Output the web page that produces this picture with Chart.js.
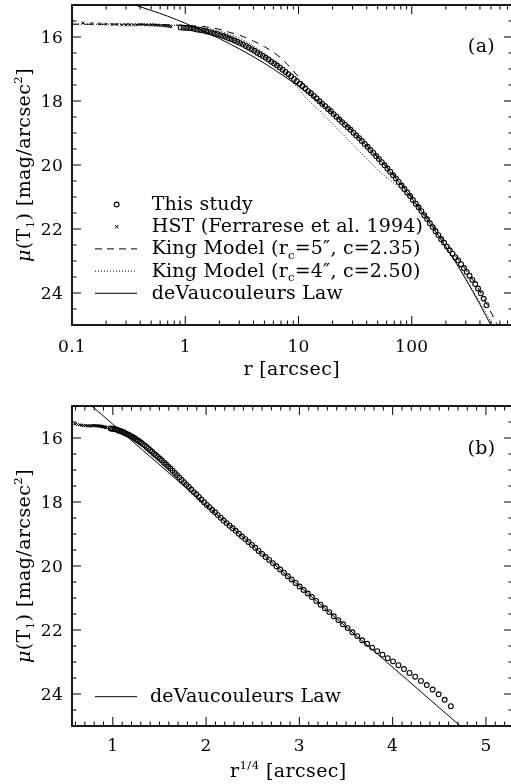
<!DOCTYPE html>
<html><head><meta charset="utf-8">
<script src="https://cdn.jsdelivr.net/npm/chart.js@4.4.1/dist/chart.umd.min.js"></script>
<style>
html,body{margin:0;padding:0;background:#fff;overflow:hidden;width:511px;height:784px;position:relative;}
canvas{display:block;position:absolute;left:0;}
</style></head><body>
<canvas id="ca" width="520" height="392" style="top:0;width:520px;height:392px"></canvas>
<canvas id="cb" width="520" height="392" style="top:392px;width:520px;height:392px"></canvas>
<script>
// ---------- data ----------
// "This study" surface photometry: radius (arcsec) and mu(T1)
const rStudy = [
 0.912, 0.966, 1.023, 1.084, 1.148, 1.216, 1.288, 1.365, 1.445, 1.531,
 1.622, 1.718, 1.820, 1.928, 2.042, 2.163, 2.291, 2.427, 2.570, 2.723,
 2.884, 3.055, 3.236, 3.428, 3.631, 3.846, 4.074, 4.315, 4.571, 4.842,
 5.129, 5.433, 5.754, 6.095, 6.457, 6.839, 7.244, 7.674, 8.128, 8.610,
 9.120, 9.661, 10.23, 10.84, 11.48, 12.16, 12.88, 13.65, 14.45, 15.31,
 16.22, 17.18, 18.20, 19.28, 20.42, 21.63, 22.91, 24.27, 25.70, 27.23,
 28.84, 30.55, 32.36, 34.28, 36.31, 38.46, 40.74, 43.15, 45.71, 48.42,
 51.29, 54.33, 57.54, 60.95, 64.57, 68.39, 72.44, 76.74, 81.28, 86.10,
 91.20, 96.61, 102.3, 108.4, 114.8, 121.6, 128.8, 136.5, 144.5, 153.1,
 162.2, 171.8, 182.0, 192.8, 204.2, 216.3, 229.1, 242.7, 257.0, 272.3,
 288.4, 305.5, 323.6, 342.8, 363.1, 384.6, 407.4, 431.5, 457.1];
const muStudy = [
 15.70, 15.71, 15.71, 15.72, 15.73, 15.75, 15.77, 15.78, 15.80, 15.82,
 15.84, 15.87, 15.89, 15.91, 15.94, 15.97, 16.00, 16.04, 16.07, 16.11,
 16.15, 16.19, 16.23, 16.28, 16.33, 16.38, 16.43, 16.49, 16.54, 16.59,
 16.65, 16.70, 16.77, 16.83, 16.89, 16.95, 17.02, 17.09, 17.16, 17.23,
 17.31, 17.38, 17.46, 17.53, 17.61, 17.69, 17.76, 17.84, 17.92, 18.01,
 18.09, 18.16, 18.25, 18.32, 18.41, 18.49, 18.58, 18.66, 18.74, 18.82,
 18.90, 18.99, 19.08, 19.16, 19.25, 19.34, 19.43, 19.53, 19.62, 19.72,
 19.81, 19.91, 20.01, 20.11, 20.21, 20.32, 20.42, 20.53, 20.64, 20.75,
 20.86, 20.97, 21.09, 21.21, 21.32, 21.44, 21.57, 21.69, 21.82, 21.94,
 22.07, 22.19, 22.32, 22.43, 22.55, 22.66, 22.77, 22.88, 22.98, 23.10,
 23.22, 23.34, 23.46, 23.59, 23.72, 23.86, 24.01, 24.18, 24.38];

// HST (Ferrarese et al. 1994)
const rHST = [0.1, 0.125, 0.15, 0.175, 0.2, 0.225, 0.25, 0.275, 0.3, 0.325, 0.35, 0.375, 0.4, 0.425,
 0.45, 0.475, 0.5, 0.525, 0.55, 0.575, 0.6, 0.625, 0.65, 0.675, 0.7, 0.725, 0.75];
const muHST = [15.53, 15.56, 15.58, 15.59, 15.60, 15.61, 15.61, 15.62, 15.62, 15.62, 15.62, 15.62, 15.61, 15.61,
 15.62, 15.62, 15.62, 15.62, 15.63, 15.63, 15.64, 15.64, 15.65, 15.65, 15.66, 15.67, 15.68];

// King model (rc=5", c=2.35) - dashed
const rKing5 = [0.1, 0.3, 0.6, 1, 1.5, 2, 2.5, 3, 4, 5, 6, 7, 8, 9, 10, 11, 12, 15, 20, 30, 50, 70, 100,
 150, 200, 250, 300, 400, 500, 560, 600];
const muKing5 = [15.60, 15.60, 15.61, 15.64, 15.68, 15.76, 15.86, 15.94, 16.13, 16.30, 16.48, 16.66, 16.86,
 17.06, 17.25, 17.45, 17.65, 17.98, 18.36, 18.93, 19.74, 20.32, 21.00, 21.82, 22.45, 22.90, 23.28, 23.95,
 24.60, 24.95, 25.20];

// King model (rc=4", c=2.50) - dotted
const rKing4 = [0.1, 0.3, 0.6, 1, 1.5, 2, 3, 4, 5, 6, 7, 8.5, 10, 12, 15, 18, 24, 30, 38, 50, 70, 85, 100,
 150, 200, 300, 400, 500, 540];
const muKing4 = [15.60, 15.60, 15.62, 15.65, 15.72, 15.81, 16.03, 16.28, 16.52, 16.76, 16.99, 17.35, 17.62,
 17.95, 18.27, 18.55, 19.00, 19.35, 19.72, 20.15, 20.58, 20.85, 21.10, 21.90, 22.55, 23.55, 24.30, 24.90, 25.10];

// de Vaucouleurs law - solid
const rDeV = [0.36, 0.5, 0.7, 1, 1.5, 2, 3, 5, 7, 10, 15, 20, 30, 50, 70, 100, 150, 200, 300, 400, 500];
const muDeV = [15.00, 15.17, 15.35, 15.57, 15.84, 16.05, 16.37, 16.82, 17.16, 17.54, 18.02, 18.39, 18.96,
 19.77, 20.36, 21.04, 21.90, 22.56, 23.57, 24.36, 25.01];

// axis ticks / labels
const xTicksA = [0.1, 1, 10, 100];
const xTickLabelsA = ['0.1', '1', '10', '100'];
const xTicksB = [1, 2, 3, 4, 5];
const xTickLabelsB = ['1', '2', '3', '4', '5'];
const yTicks = [16, 18, 20, 22, 24];
const yTickLabels = ['16', '18', '20', '22', '24'];

// ---------- drawing helpers ----------
const FONT = '"DejaVu Serif", serif';
function setFont(ctx, size, style) { ctx.font = (style ? style + ' ' : '') + size + 'px ' + FONT; }
function richWidth(ctx, segs, F) {
  let w = 0;
  for (const s of segs) { setFont(ctx, F * (s.s || 1), s.st); w += ctx.measureText(s.t).width; }
  return w;
}
function drawRich(ctx, segs, x, y, F, align) {
  const w = richWidth(ctx, segs, F);
  let cx = align === 'center' ? x - w / 2 : (align === 'right' ? x - w : x);
  ctx.textAlign = 'left'; ctx.textBaseline = 'alphabetic';
  for (const s of segs) {
    setFont(ctx, F * (s.s || 1), s.st);
    ctx.fillText(s.t, cx, y + F * (s.dy || 0));
    cx += ctx.measureText(s.t).width;
  }
}
const yTitleSegs = [{t:'\u03bc', st:'italic'}, {t:'(T'}, {t:'1', s:0.62, dy:0.22}, {t:') [mag/arcsec'}, {t:'2', s:0.62, dy:-0.42}, {t:']'}];

const decorPlugin = {
  id: 'decor',
  afterDraw(chart, args, o) {
    const ctx = chart.ctx, a = chart.chartArea, xs = chart.scales.x, ys = chart.scales.y;
    ctx.save();
    ctx.strokeStyle = '#000'; ctx.fillStyle = '#000';
    // ticks
    ctx.lineWidth = 1;
    ctx.beginPath();
    const xt = (v, len) => { const p = xs.getPixelForValue(v); if (p <= a.left + 0.5 || p >= a.right - 0.5) return;
      ctx.moveTo(p, a.bottom); ctx.lineTo(p, a.bottom - len); ctx.moveTo(p, a.top); ctx.lineTo(p, a.top + len); };
    const yt = (v, len) => { const p = ys.getPixelForValue(v); if (p <= a.top + 0.5 || p >= a.bottom - 0.5) return;
      ctx.moveTo(a.left, p); ctx.lineTo(a.left + len, p); ctx.moveTo(a.right, p); ctx.lineTo(a.right - len, p); };
    o.xMinor.forEach(v => xt(v, 4.5));
    o.xMajor.forEach(v => xt(v, 9));
    for (let v = 15.5; v < 25; v += 0.5) { if (!yTicks.includes(v)) yt(v, 4.5); }
    yTicks.forEach(v => yt(v, 9));
    ctx.stroke();
    // frame
    ctx.lineWidth = 1.8;
    ctx.strokeRect(a.left, a.top, a.right - a.left, a.bottom - a.top);
    // tick labels
    ctx.letterSpacing = '0.3px';
    setFont(ctx, 17);
    ctx.textBaseline = 'alphabetic';
    ctx.textAlign = 'center';
    o.xMajor.forEach((v, i) => ctx.fillText(o.xLabels[i], xs.getPixelForValue(v), a.bottom + o.xLabelDy));
    ctx.textAlign = 'right';
    yTicks.forEach((v, i) => ctx.fillText(yTickLabels[i], 63, ys.getPixelForValue(v) + 6.2));
    // titles
    ctx.letterSpacing = '0.4px';
    drawRich(ctx, o.xTitle, o.xTitleX, o.xTitleY, 19, 'center');
    ctx.save();
    ctx.translate(29.5, (a.top + a.bottom) / 2);
    ctx.rotate(-Math.PI / 2);
    drawRich(ctx, yTitleSegs, 0, 0, 19, 'center');
    ctx.restore();
    // panel letter
    setFont(ctx, 19);
    ctx.textAlign = 'center'; ctx.textBaseline = 'middle';
    ctx.fillText(o.panel, 481.5, o.panelY);
    // legend
    ctx.letterSpacing = '0.2px';
    o.legend.forEach(L => {
      ctx.save();
      ctx.lineWidth = 1;
      if (L.kind === 'circle') {
        ctx.lineWidth = 1.1; ctx.beginPath(); ctx.arc(116.7, L.y, 2.4, 0, Math.PI * 2); ctx.stroke();
      } else if (L.kind === 'cross') {
        ctx.lineWidth = 1; ctx.beginPath();
        ctx.moveTo(115, L.y - 1.7); ctx.lineTo(118.4, L.y + 1.7); ctx.moveTo(118.4, L.y - 1.7); ctx.lineTo(115, L.y + 1.7); ctx.stroke();
      } else {
        ctx.setLineDash(L.dash || []);
        ctx.beginPath(); ctx.moveTo(95, L.y); ctx.lineTo(137, L.y); ctx.stroke();
      }
      ctx.restore();
      drawRich(ctx, L.segs, o.legendX, L.y + 5.5, 19, 'left');
    });
    ctx.restore();
  }
};

function minorLog(max) { const out = []; for (const d of [0.1, 1, 10, 100]) for (let m = 2; m <= 9; m++) if (d * m <= max) out.push(d * m); return out; }
function minorLin(lo, hi) { const out = []; for (let i = Math.ceil(lo * 10); i <= Math.floor(hi * 10); i++) if (i % 10 !== 0) out.push(i / 10); return out; }

const pts = (rs, ms, f) => rs.map((r, i) => ({x: f ? f(r) : r, y: ms[i]}));
const q = r => Math.pow(r, 0.25);

function scatterSet(data, style) {
  return Object.assign({data, showLine:false, pointRadius:2.4, pointHoverRadius:2.4, pointBorderColor:'#000',
    pointBackgroundColor:'rgba(0,0,0,0)', pointBorderWidth:1.1, borderColor:'#000'}, style);
}
function lineSet(data, dash, w) {
  return {data, showLine:true, pointRadius:0, borderColor:'#000', borderWidth:w || 1, borderDash:dash || [],
    cubicInterpolationMode:'monotone', fill:false};
}
function baseOptions(xScale, padTop, xAxisH, decor) {
  return {
    responsive:false, animation:false, events:[],
    layout:{padding:{left:0, right:7, top:padTop, bottom:0}},
    plugins:{legend:{display:false}, tooltip:{enabled:false}, decor},
    scales:{
      x: Object.assign({ticks:{display:false}, grid:{display:false}, border:{display:false},
        afterFit(s){ s.height = xAxisH; }}, xScale),
      y: {min:15, max:25, reverse:true, ticks:{display:false}, grid:{display:false}, border:{display:false},
        afterFit(s){ s.width = 72; }}
    }
  };
}

// ---------- panel (a) ----------
new Chart(document.getElementById('ca'), {
  type:'scatter',
  data:{datasets:[
    lineSet(pts(rDeV, muDeV), [], 1),
    lineSet(pts(rKing5, muKing5), [7, 6], 1),
    lineSet(pts(rKing4, muKing4), [1, 2], 1),
    scatterSet(pts(rHST, muHST), {pointStyle:'crossRot', pointRadius:2, pointBorderWidth:1}),
    scatterSet(pts(rStudy, muStudy), {pointStyle:'circle'})
  ]},
  options: baseOptions({type:'logarithmic', min:0.1, max:783}, 5, 67, {
    xMajor:xTicksA, xLabels:xTickLabelsA, xMinor:minorLog(783), xLabelDy:26.5,
    xTitle:[{t:'r [arcsec]'}], xTitleX:291.7, xTitleY:375,
    panel:'(a)', panelY:47.5, legendX:151.7,
    legend:[
      {kind:'circle', y:204.5, segs:[{t:'This study'}]},
      {kind:'cross', y:226.7, segs:[{t:'HST (Ferrarese et al. 1994)'}]},
      {kind:'line', dash:[7, 5], y:248.9, segs:[{t:'King Model (r'}, {t:'c', s:0.62, dy:0.22}, {t:'=5\u2033, c=2.35)'}]},
      {kind:'line', dash:[1, 2], y:271.1, segs:[{t:'King Model (r'}, {t:'c', s:0.62, dy:0.22}, {t:'=4\u2033, c=2.50)'}]},
      {kind:'line', y:293.3, segs:[{t:'deVaucouleurs Law'}]}
    ]
  }),
  plugins:[decorPlugin]
});

// ---------- panel (b) ----------
new Chart(document.getElementById('cb'), {
  type:'scatter',
  data:{datasets:[
    lineSet(pts(rDeV, muDeV, q), [], 1),
    scatterSet(pts(rHST, muHST, q), {pointStyle:'crossRot', pointRadius:2, pointBorderWidth:1}),
    scatterSet(pts(rStudy, muStudy, q), {pointStyle:'circle'})
  ]},
  options: baseOptions({type:'linear', min:0.5623, max:5.29}, 14, 58, {
    xMajor:xTicksB, xLabels:xTickLabelsB, xMinor:minorLin(0.5623, 5.29), xLabelDy:24.5,
    xTitle:[{t:'r'}, {t:'1/4', s:0.62, dy:-0.42}, {t:' [arcsec]'}], xTitleX:288.3, xTitleY:384.7,
    panel:'(b)', panelY:57, legendX:150,
    legend:[
      {kind:'line', y:304.7, segs:[{t:'deVaucouleurs Law'}]}
    ]
  }),
  plugins:[decorPlugin]
});
</script>
</body></html>
